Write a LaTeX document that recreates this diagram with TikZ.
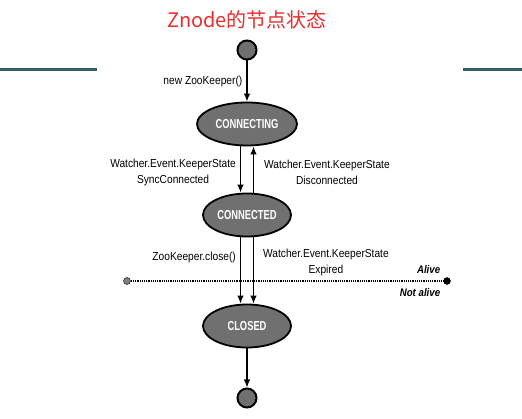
\documentclass[tikz,border=0pt]{standalone}
\usepackage{fontspec}
\setmainfont{Liberation Sans}
\newfontfamily\labelfont[FakeStretch=0.88]{Liberation Sans}
\newfontfamily\statefont[FakeStretch=0.72]{Liberation Sans}
\newfontfamily\cjk{Noto Sans CJK SC}
\usetikzlibrary{positioning}
\usetikzlibrary{shapes.geometric}
\usetikzlibrary{arrows.meta}
\definecolor{statefill}{RGB}{112,112,112}
\definecolor{rulecolor}{RGB}{52,96,99}
\definecolor{titlered}{RGB}{235,45,45}
\tikzset{x=1pt, y=1pt,
	zkstate/.style={
		ellipse, draw, line width=1.8pt,
		fill=statefill, text=white,
		font=\statefont\bfseries\fontsize{13}{13}\selectfont,
		minimum width=88pt, minimum height=43pt, inner sep=0pt},
	endpoint/.style={
		circle, draw, line width=2pt,
		fill=statefill, minimum size=19pt, inner sep=0pt},
	lifedot/.style={circle, draw, inner sep=0pt, minimum size=7pt},
	trans/.style={
		font=\labelfont\fontsize{11.6}{16}\selectfont,
		align=center, inner sep=4pt},
	life/.style={font=\labelfont\itshape\bfseries\fontsize{11}{12}\selectfont, inner sep=0pt},
	every edge/.style={
		draw,
		-{Latex[length=8pt,width=6.5pt]},
		auto,
		line width=1.3pt}
}
\begin{document}
\begin{tikzpicture}
	\useasboundingbox (0,0) rectangle (522,-419);
	\node[font=\cjk\fontsize{20}{20}\selectfont, text=titlered] (title) at (247,-20) {Znode的节点状态};
	\draw[rulecolor, line width=3pt] (0,-70) -- (97,-70);
	\draw[rulecolor, line width=3pt] (463,-70) -- (522,-70);
	% states
	\node[endpoint] (start) at (247,-50) {};
	\node[zkstate, minimum width=100pt, below of=start, node distance=74pt] (connecting) {CONNECTING};
	\node[zkstate, below of=connecting, node distance=91pt] (connected) {CONNECTED};
	\node[zkstate, below of=connected, node distance=111pt] (closed) {CLOSED};
	\node[endpoint, below of=closed, node distance=72pt] (end) {};
	% alive / not alive
	\node[lifedot, fill=gray] (alivel) at (127,-281) {};
	\node[lifedot, fill=black] (aliver) at (447,-281) {};
	\draw[densely dotted, line width=1.2pt] (alivel) -- (aliver);
	\node[life, above left=5pt and 4pt of aliver] (alive) {Alive};
	\node[life, below left=5pt and 4pt of aliver] (notalive) {Not alive};
	% transitions
	\draw (start) edge node[swap, trans] {new ZooKeeper()} (connecting);
	\draw ([xshift=-6.5pt]connecting.south) edge node[swap, trans, pos=0.56] {Watcher.Event.KeeperState\\SyncConnected} ([xshift=-6.5pt]connected.north);
	\draw ([xshift=6.5pt]connected.north) edge node[swap, trans, pos=0.44, xshift=6pt] {Watcher.Event.KeeperState\\Disconnected} ([xshift=6.5pt]connecting.south);
	\draw ([xshift=-6.5pt]connected.south) edge node[swap, trans, pos=0.3] {ZooKeeper.close()} ([xshift=-6.5pt]closed.north);
	\draw ([xshift=6.5pt]connected.south) edge node[trans, pos=0.38, xshift=5pt] {Watcher.Event.KeeperState\\Expired} ([xshift=6.5pt]closed.north);
	\draw (closed) edge (end);
\end{tikzpicture}
\end{document}
